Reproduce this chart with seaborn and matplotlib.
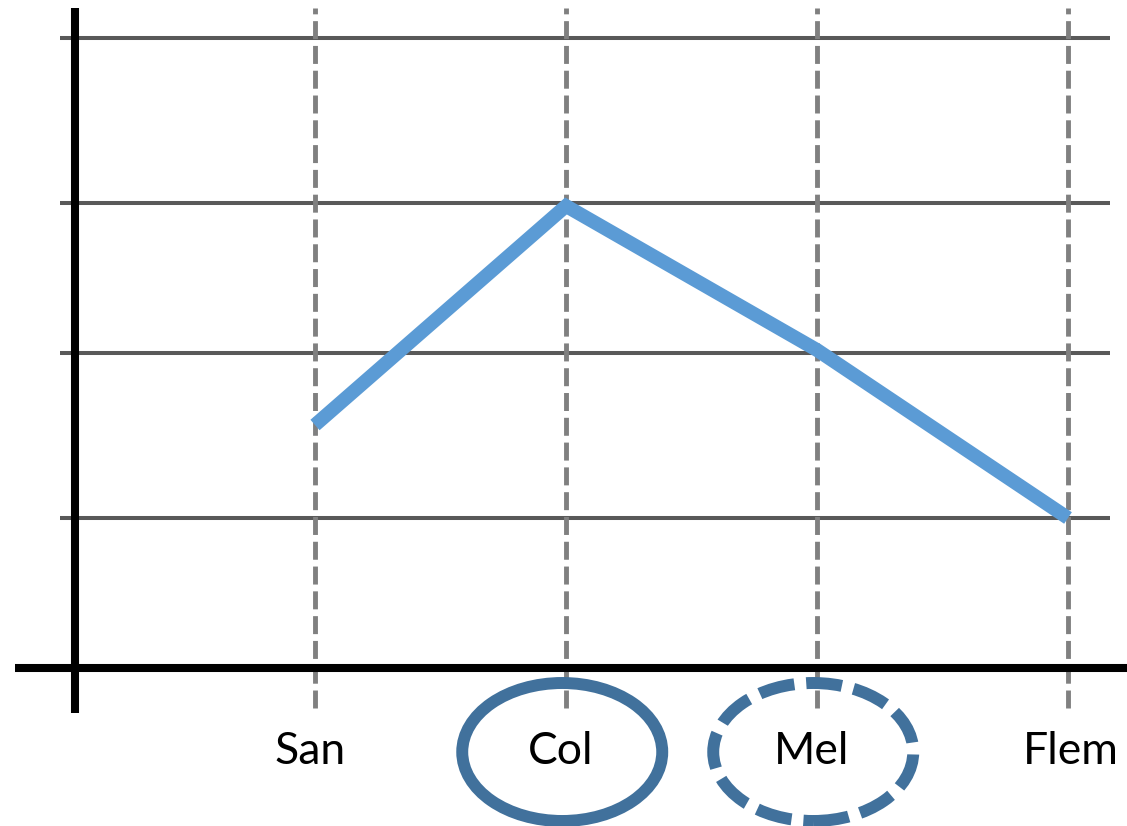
import matplotlib
matplotlib.use("Agg")
import matplotlib.pyplot as plt
from matplotlib.patches import Ellipse
import seaborn as sns
import pandas as pd

categories = ["San", "Col", "Mel", "Flem"]
values = [1.62, 3.08, 2.12, 1.0]
grid_levels = [1.0, 2.1, 3.1, 4.2]
circled_solid = ["Col"]
circled_dashed = ["Mel"]

sns.set_theme(style="white")
plt.rcParams["font.family"] = ["Lato", "DejaVu Sans"]

fig = plt.figure(figsize=(11.27, 8.26), dpi=100)
ax = fig.add_axes([0, 0, 1, 1])
ax.set_axis_off()

# pixel-to-data mapping: index i at px 315 + 251*i ; value v at px 668 - 150*v
SX = 251
ax.set_xlim(-315 / SX, (1127 - 315) / SX)
ax.set_ylim((668 - 826) / 150, 668 / 150)

pos = list(range(len(categories)))
df = pd.DataFrame({"pos": pos, "value": values, "cat": categories})

# horizontal gridlines
ax.hlines(grid_levels, (60 - 315) / SX, (1110 - 315) / SX,
          color="#595959", lw=2.9, zorder=1)
# vertical dashed lines
ax.vlines(pos, (668 - 708) / 150, (668 - 8) / 150,
          color="#808080", lw=3.5, linestyles=[(0, (3.7, 1.4))], zorder=1)
# axes lines
ax.hlines(0, (15 - 315) / SX, (1127 - 315) / SX, color="black", lw=5.8, zorder=3)
ax.vlines((75 - 315) / SX, (668 - 713) / 150, (668 - 8) / 150,
          color="black", lw=5.8, zorder=3)

sns.lineplot(data=df, x="pos", y="value", ax=ax, color="#5B9BD5", lw=10,
             sort=False, zorder=4, solid_capstyle="butt", solid_joinstyle="miter")
ax.set_axis_off()

label_y = (668 - 752) / 150
for p, c in zip(pos, categories):
    dx = 0.01 if c == "Flem" else -0.02
    ax.text(p + dx, label_y, c, ha="center", va="center", fontsize=32, color="black")
    if c in circled_solid or c in circled_dashed:
        ls = "-" if c in circled_solid else (0, (3.0, 1.0))
        e = Ellipse((p - 0.015, label_y), 200 / SX, 138 / 150, fill=False,
                    edgecolor="#41719C", lw=8.6, linestyle=ls, zorder=5)
        ax.add_patch(e)

ax.set_xlim(-315 / SX, (1127 - 315) / SX)
ax.set_ylim((668 - 826) / 150, 668 / 150)
fig.savefig("out.png", dpi=100)
